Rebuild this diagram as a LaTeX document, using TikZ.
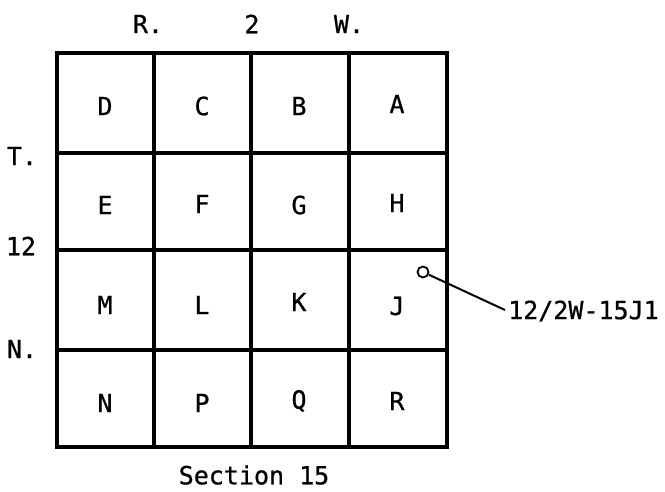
\documentclass[tikz,border=0pt]{standalone}
\usepackage{fontspec}
\newfontfamily\lblfont[FakeBold=0.8]{DejaVu Sans Mono}
\begin{document}
\begin{tikzpicture}[x=1pt,y=-1pt,
  lbl/.style={font=\lblfont\fontsize{25}{25}\selectfont, inner sep=0pt},
  gridline/.style={line width=3.5pt},
  lead/.style={line width=2pt}]
\useasboundingbox (0,0) rectangle (665,491);
% grid
\draw[gridline] (57,53) rectangle (447,447);
\foreach \x in {154,251,349} \draw[gridline] (\x,53) -- (\x,447);
\foreach \y in {153,250,350} \draw[gridline] (57,\y) -- (447,\y);
% cell letters
\node[lbl] (D) at (105,106) {D};
\node[lbl] (C) at (202,106) {C};
\node[lbl] (B) at (299,106) {B};
\node[lbl] (A) at (397,104) {A};
\node[lbl] (E) at (105,205) {E};
\node[lbl] (F) at (202,204) {F};
\node[lbl] (G) at (299,205) {G};
\node[lbl] (H) at (397,203) {H};
\node[lbl] (M) at (105,305) {M};
\node[lbl] (L) at (202,305) {L};
\node[lbl] (K) at (299,302) {K};
\node[lbl] (J) at (397,306) {J};
\node[lbl] (N) at (105,403) {N};
\node[lbl] (P) at (202,403) {P};
\node[lbl] (Q) at (299,401) {Q};
\node[lbl] (R) at (397,401) {R};
% margin labels
\node[lbl] (r) at (148,24) {R.};
\node[lbl] (two) at (252,24) {2};
\node[lbl] (w) at (349,24) {W.};
\node[lbl] (t) at (22,156) {T.};
\node[lbl] (twelve) at (21,246) {12};
\node[lbl] (n) at (22,349) {N.};
\node[lbl] (sec) at (254,475) {Section 15};
% well
\node[circle, draw, line width=1.8pt, minimum size=11pt, inner sep=0pt] (well) at (423,272) {};
\node[lbl, anchor=west] (wl) at (508,311) {12/2W-15J1};
\coordinate (le) at (505,310);
\draw[lead] (well) -- (le);
\end{tikzpicture}
\end{document}
